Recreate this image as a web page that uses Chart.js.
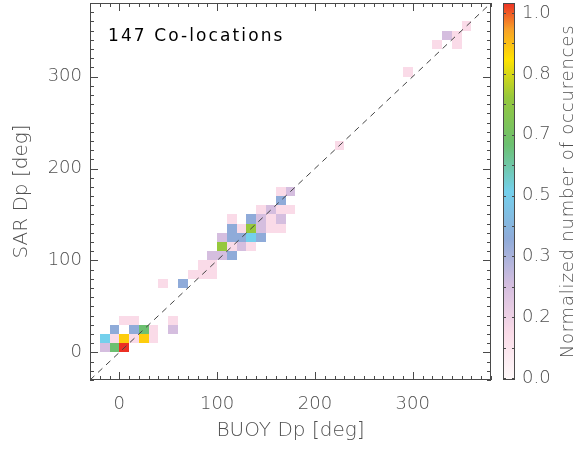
<!DOCTYPE html>
<html>
<head>
<meta charset="utf-8">
<script src="https://cdn.jsdelivr.net/npm/chart.js@4.4.1/dist/chart.umd.min.js"></script>
<style>
  html, body { margin: 0; padding: 0; background: #fff; }
  canvas { display: block; }
</style>
</head>
<body>
<canvas id="dpChart" width="578" height="450"></canvas>
<script>
// occupied 10 deg bins: lower edge in BUOY Dp, lower edge in SAR Dp, number of co-locations
const buoyBin = [
    -20, -10, 0,
    -20, -10, 0, 10, 20, 30,
    -10, 10, 20, 30, 50,
    0, 10, 50,
    40, 60,
    70, 80, 90,
    80, 90,
    90, 100, 110,
    100, 110, 120, 130,
    100, 110, 120, 130, 140,
    110, 120, 130, 140, 150, 160,
    110, 130, 140, 150, 160,
    140, 150, 160, 170,
    160,
    160, 170,
    220,
    290,
    320, 340,
    330, 340,
    350
];
const sarBin = [
    0, 0, 0,
    10, 10, 10, 10, 10, 10,
    20, 20, 20, 20, 20,
    30, 30, 30,
    70, 70,
    80, 80, 80,
    90, 90,
    100, 100, 100,
    110, 110, 110, 110,
    120, 120, 120, 120, 120,
    130, 130, 130, 130, 130, 130,
    140, 140, 140, 140, 140,
    150, 150, 150, 150,
    160,
    170, 170,
    220,
    300,
    330, 330,
    340, 340,
    350
];
const binCount = [
    2, 5, 8,
    4, 1, 7, 1, 7, 1,
    3, 3, 5, 1, 2,
    1, 1, 1,
    1, 3,
    1, 1, 1,
    1, 1,
    2, 2, 3,
    6, 1, 2, 1,
    2, 3, 3, 4, 3,
    3, 1, 6, 2, 1, 1,
    1, 3, 2, 1, 2,
    1, 2, 1, 1,
    3,
    1, 2,
    1,
    1,
    1, 1,
    2, 1,
    1
];
const binSize = 10;
const axisTicks = [0, 100, 200, 300];
const diagonal = [-30, 380];
const cbarLabels = ['1.0', '0.8', '0.7', '0.5', '0.3', '0.2', '0.0'];
const nColocations = 147;

// colour table of the picture (value 0..1 -> colour)
const colorStops = [
    [0.0, [255, 250, 250]],
    [0.125, [250, 219, 232]],
    [0.25, [213, 190, 223]],
    [0.375, [143, 171, 217]],
    [0.5, [116, 208, 236]],
    [0.625, [108, 192, 112]],
    [0.75, [150, 200, 60]],
    [0.85, [255, 226, 0]],
    [0.93, [247, 160, 40]],
    [1.0, [236, 48, 36]]
];

function colorFor(v) {
    for (let i = 1; i < colorStops.length; i++) {
        if (v <= colorStops[i][0]) {
            const [a, ca] = colorStops[i - 1];
            const [b, cb] = colorStops[i];
            const t = (v - a) / (b - a);
            const c = ca.map((k, j) => Math.round(k + (cb[j] - k) * t));
            return `rgb(${c[0]},${c[1]},${c[2]})`;
        }
    }
    return 'rgb(236,48,36)';
}

const maxCount = Math.max(...binCount);
const cells = buoyBin.map((b, i) => ({
    x: b + binSize / 2,
    y: sarBin[i] + binSize / 2,
    v: binCount[i] / maxCount
}));

const FONT = "'DejaVu Sans', sans-serif";
const GRAY = '#505050';
const FRAME = '#4a4a4a';

// cells, frame with inward ticks, label and colour bar
const idlPlot = {
    id: 'idlPlot',
    beforeDatasetsDraw(chart) {
        const ctx = chart.ctx;
        const xs = chart.scales.x, ys = chart.scales.y;
        ctx.save();
        cells.forEach(c => {
            const x0 = Math.round(xs.getPixelForValue(c.x - binSize / 2));
            const x1 = Math.round(xs.getPixelForValue(c.x + binSize / 2));
            const y0 = Math.round(ys.getPixelForValue(c.y + binSize / 2));
            const y1 = Math.round(ys.getPixelForValue(c.y - binSize / 2));
            ctx.fillStyle = colorFor(c.v);
            ctx.fillRect(x0, y0, x1 - x0, y1 - y0);
        });
        ctx.restore();
    },
    afterDraw(chart) {
        const ctx = chart.ctx;
        const a = chart.chartArea;
        const xs = chart.scales.x, ys = chart.scales.y;
        ctx.save();
        ctx.strokeStyle = FRAME;
        ctx.lineWidth = 1;
        ctx.strokeRect(a.left + 0.5, a.top + 0.5, a.right - a.left - 1, a.bottom - a.top - 1);
        ctx.beginPath();
        for (let v = -30; v <= 380; v += 10) {
            const len = v % 100 === 0 ? 8 : 4;
            const px = Math.round(xs.getPixelForValue(v)) + 0.5;
            ctx.moveTo(px, a.bottom); ctx.lineTo(px, a.bottom - len);
            ctx.moveTo(px, a.top); ctx.lineTo(px, a.top + len);
            const py = Math.round(ys.getPixelForValue(v)) + 0.5;
            ctx.moveTo(a.left, py); ctx.lineTo(a.left + len, py);
            ctx.moveTo(a.right, py); ctx.lineTo(a.right - len, py);
        }
        ctx.stroke();

        // count label
        ctx.fillStyle = '#000';
        ctx.font = `17px ${FONT}`;
        ctx.letterSpacing = '2.1px';
        ctx.textBaseline = 'alphabetic';
        ctx.fillText(`${nColocations} Co-locations`, a.left + 18, a.top + 38);
        ctx.letterSpacing = '0px';

        // colour bar
        const cbL = a.right + 12, cbR = a.right + 24;
        const grad = ctx.createLinearGradient(0, a.bottom, 0, a.top);
        colorStops.forEach(([v, c]) => grad.addColorStop(v, `rgb(${c[0]},${c[1]},${c[2]})`));
        ctx.fillStyle = grad;
        ctx.fillRect(cbL, a.top, cbR - cbL, a.bottom - a.top);
        ctx.strokeStyle = FRAME;
        ctx.strokeRect(cbL + 0.5, a.top + 0.5, cbR - cbL - 1, a.bottom - a.top - 1);
        const top = a.top + 10, bot = a.bottom - 2;
        const step = (bot - top) / (cbarLabels.length - 1);
        ctx.beginPath();
        for (let i = 0; i < cbarLabels.length * 2 - 1; i++) {
            const py = Math.round(top + i * step / 2) + 0.5;
            ctx.moveTo(cbL, py); ctx.lineTo(cbL + 3, py);
            ctx.moveTo(cbR, py); ctx.lineTo(cbR - 3, py);
        }
        ctx.stroke();
        ctx.fillStyle = GRAY;
        ctx.font = `200 18px ${FONT}`;
        ctx.textAlign = 'left';
        ctx.textBaseline = 'middle';
        cbarLabels.forEach((t, i) => ctx.fillText(t, cbR + 7, top + i * step));
        ctx.translate(568, (a.top + a.bottom) / 2);
        ctx.rotate(-Math.PI / 2);
        ctx.textAlign = 'center';
        ctx.letterSpacing = '0.8px';
        ctx.fillText('Normalized number of occurences', 0, 0);
        ctx.restore();
    }
};

function axis(titleText, isX) {
    return {
        type: 'linear',
        min: -30,
        max: 380,
        afterBuildTicks: s => { s.ticks = axisTicks.map(v => ({ value: v })); },
        afterFit: s => {
            if (isX) s.height = 70; else s.width = 90;
            s.paddingTop = 0; s.paddingBottom = 0;
            s.paddingLeft = 0; s.paddingRight = 0;
        },
        grid: { display: false, drawTicks: false },
        border: { display: false },
        ticks: {
            color: GRAY,
            font: { family: FONT, size: 18, weight: 200 },
            padding: isX ? 14 : 8,
            autoSkip: false,
            maxRotation: 0
        },
        title: {
            display: true,
            text: titleText,
            color: GRAY,
            font: { family: FONT, size: 20, weight: 200 },
            padding: isX ? { top: 0, bottom: 7 } : { top: 10, bottom: 0 }
        }
    };
}

new Chart(document.getElementById('dpChart'), {
    type: 'scatter',
    data: {
        datasets: [
            {
                label: 'cells',
                data: cells,
                pointRadius: 0,
                pointHoverRadius: 0
            },
            {
                type: 'line',
                label: '1:1',
                data: diagonal.map(v => ({ x: v, y: v })),
                borderColor: '#444',
                borderWidth: 1,
                borderDash: [6, 5],
                pointRadius: 0,
                fill: false
            }
        ]
    },
    options: {
        responsive: false,
        animation: false,
        layout: { padding: { top: 3, right: 87, left: 0, bottom: 0 } },
        scales: {
            x: axis('BUOY Dp [deg]', true),
            y: axis('SAR Dp [deg]', false)
        },
        plugins: {
            legend: { display: false },
            tooltip: { enabled: false }
        }
    },
    plugins: [idlPlot]
});
</script>
</body>
</html>
